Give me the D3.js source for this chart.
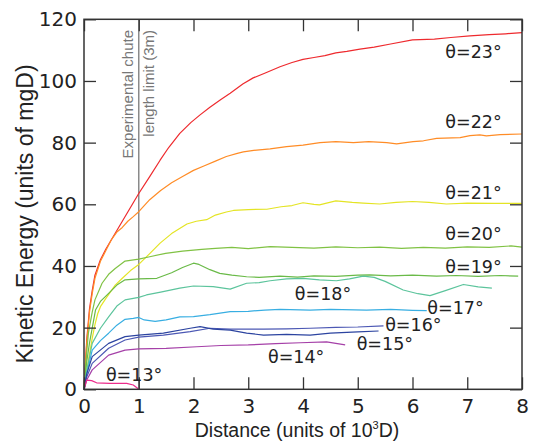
<!DOCTYPE html>
<html><head><meta charset="utf-8">
<script src="https://cdn.jsdelivr.net/npm/d3@7"></script>
<style>body{margin:0;background:#fff}svg{display:block}</style>
</head><body>
<svg id="c" width="537" height="444"></svg>
<script>
// ---- data ----
const xTicks = [0,1,2,3,4,5,6,7,8];
const yTicks = [0,20,40,60,80,100,120];
const angles = [23,22,21,20,19,18,17,16,15,14,13];
const colors = ["#ee2a2e","#ff8c26","#e4e424","#80c244","#6aba48","#5cc49c","#38aee2","#4c58b4","#2c44a0","#a540a8","#ec2c8c"];

const s23 = [[0,0],[0.05,16],[0.1,26],[0.15,32],[0.2,37],[0.3,42],[0.4,45.5],[0.5,48.5],[0.6,51.5],[0.7,54.5],[0.8,57.5],[0.9,60.5],[1.0,63.5],[1.2,69],[1.39,74.3],[1.55,78.5],[1.75,83],[1.95,86.5],[2.12,89],[2.3,91.5],[2.5,94],[2.67,96],[2.9,99],[3.09,101],[3.3,102.5],[3.58,104.6],[3.8,106],[4.0,107],[4.2,107.6],[4.4,108.2],[4.6,109.1],[4.8,109.6],[5.04,110.3],[5.3,111],[5.6,112],[6.0,113.3],[6.4,113.6],[6.7,114.1],[7.05,114.6],[7.4,115],[7.7,115.3],[8.0,115.7]];
const s22 = [[0,0],[0.05,15],[0.1,25],[0.15,31],[0.2,36],[0.3,41.5],[0.4,45],[0.5,48.5],[0.6,51],[0.7,52.5],[0.8,54.5],[0.9,56],[1.0,57.6],[1.2,61.5],[1.4,64.5],[1.6,67],[1.8,69],[2.0,71],[2.2,72.5],[2.4,74],[2.6,75.5],[2.8,76.5],[2.91,77],[3.1,77.5],[3.4,78],[3.7,78.7],[4.0,79.2],[4.31,80],[4.6,80.3],[4.92,80],[5.2,80.3],[5.53,80],[5.71,79.6],[6.01,80.3],[6.2,80.6],[6.44,81.4],[6.87,81.6],[7.05,82.3],[7.23,82.5],[7.35,82.2],[7.6,82.6],[8.0,82.8]];
const s21 = [[0,0],[0.05,6],[0.1,11.5],[0.15,16.5],[0.2,21],[0.25,24.5],[0.3,26.8],[0.4,29.5],[0.57,33.8],[0.7,36],[0.85,38.5],[1.0,40.5],[1.2,44],[1.39,47.4],[1.6,50.5],[1.88,53.6],[2.05,54.5],[2.24,55],[2.4,56.5],[2.6,57.5],[2.73,58],[3.0,58.3],[3.34,58.4],[3.6,59.2],[3.8,59.6],[4.0,60.5],[4.2,60],[4.3,59.8],[4.6,61.1],[4.9,60.6],[5.1,60.4],[5.4,60.1],[5.7,60.6],[6.0,60.9],[6.3,60.6],[6.62,60.1],[7.0,60.4],[7.5,60.3],[8.0,60.3]];
const s20 = [[0,0],[0.04,10],[0.08,18.2],[0.15,25],[0.2,29],[0.33,34.4],[0.45,37.3],[0.57,39.2],[0.75,41.6],[1.0,42.2],[1.2,43],[1.49,44.1],[1.8,44.8],[2.15,45.4],[2.4,45.7],[2.7,46],[3.0,45.6],[3.4,46.3],[3.8,46],[4.2,45.8],[4.6,46.2],[5.0,45.9],[5.4,46.1],[5.8,45.7],[6.2,46],[6.6,45.8],[7.0,46.2],[7.4,46],[7.8,46.5],[8.0,46.1]];
const s19 = [[0,0],[0.05,9],[0.1,15],[0.21,25.7],[0.3,28.5],[0.45,31.1],[0.6,33.8],[0.75,35.5],[1.0,35.8],[1.33,36],[1.6,37.8],[1.8,39.5],[2.0,40.9],[2.1,40.5],[2.3,38.8],[2.48,37.6],[2.7,37],[2.97,36.5],[3.2,36.3],[3.58,36.7],[3.9,36.4],[4.2,36.8],[4.6,36.6],[5.0,37],[5.22,37.1],[5.6,36.8],[6.0,37],[6.44,36.7],[6.8,36.9],[7.2,36.6],[7.6,36.9],[7.93,36.7]];
const s18 = [[0,0],[0.05,6],[0.15,14.9],[0.3,19.8],[0.45,23.5],[0.6,27],[0.75,29],[1.0,29.8],[1.14,30.6],[1.4,31.5],[1.75,32.8],[2.0,33.5],[2.36,33.3],[2.67,32.5],[2.97,34.4],[3.2,34.6],[3.4,35.2],[3.7,35.8],[4.0,36],[4.3,35.5],[4.61,35.2],[4.85,35.8],[5.1,36.7],[5.3,36.3],[5.5,35],[5.83,32.2],[6.1,31],[6.32,30.4],[6.6,32],[6.93,34],[7.2,33.2],[7.45,32.8]];
const s17 = [[0,0],[0.05,5],[0.15,12.7],[0.3,15.8],[0.45,18.2],[0.6,20.8],[0.75,22.7],[0.9,23],[1.0,23.3],[1.1,22.5],[1.3,22],[1.5,22.5],[1.75,23.5],[2.0,23.6],[2.3,24.2],[2.67,25.2],[3.0,25.3],[3.3,25.7],[3.58,25.9],[4.13,25.7],[4.5,25.9],[5.16,25.7],[5.6,25.9],[6.0,25.6],[6.26,25.5]];
const s16 = [[0,0],[0.05,4],[0.15,8.4],[0.45,13.3],[0.75,16],[1.0,16.9],[1.45,17.6],[1.94,18.7],[2.3,19.8],[2.67,19.5],[3.28,19.5],[3.7,19.6],[4.13,19.8],[4.6,20.1],[5.0,20.2],[5.47,20.6]];
const s15 = [[0,0],[0.05,5],[0.15,10.6],[0.45,14.9],[0.75,17.1],[1.0,17.6],[1.45,18.2],[1.94,19.8],[2.12,20.3],[2.36,19.5],[2.67,19.2],[2.97,18.2],[3.28,17.6],[3.7,17.8],[4.13,17.6],[4.5,18.2],[5.0,18.6],[5.38,18.9]];
const s14 = [[0,0],[0.05,3],[0.15,6.3],[0.45,11.1],[0.75,12.7],[1.0,13.1],[1.5,13.3],[2.06,13.8],[2.5,14.2],[3.0,14.4],[3.5,14.8],[3.95,15.1],[4.43,15.4],[4.77,14.4]];
const s13 = [[0,0],[0.05,3],[0.14,2.8],[0.23,2.1],[0.47,1.9],[0.78,1.9],[0.9,1.4],[0.99,0.2]];
const seriesData = [s23,s22,s21,s20,s19,s18,s17,s16,s15,s14,s13];
// label anchor points (data coords)
const labelX = [6.6,6.6,6.6,6.6,6.6,3.85,6.27,5.5,4.98,3.36,0.4];
const labelY = [107.5,84.6,61.8,48.5,37.8,29,24.5,19,12.9,8.5,2.7];
const chuteX = 1;

// ---- chart ----
const svg = d3.select("#c");
const L=84, R=522, T=19.3, B=389.3;
const x = d3.scaleLinear().domain([0,8]).range([L,R]);
const y = d3.scaleLinear().domain([0,120]).range([B,T]);
const tickFont = "'DejaVu Sans', sans-serif";
const textFont = "'Liberation Sans', Arial, sans-serif";

// vertical chute line
svg.append("line").attr("x1",x(chuteX)).attr("x2",x(chuteX)).attr("y1",T).attr("y2",B)
  .attr("stroke","#8a8a8a").attr("stroke-width",1.5);

const line = d3.line().x(d=>x(d[0])).y(d=>y(d[1]));
seriesData.forEach((s,i)=>{
  svg.append("path").attr("d",line(s)).attr("fill","none")
    .attr("stroke",colors[i]).attr("stroke-width",1.2).attr("stroke-linejoin","round");
});

// axes
const ax = (g,axis,lab)=>{
  g.call(axis);
  g.select(".domain").remove();
  g.selectAll(".tick line").attr("stroke","#333").attr("stroke-width",1.3);
  g.selectAll("text").attr("font-family",tickFont).attr("font-size",20).attr("fill","#222");
  if(!lab) g.selectAll("text").remove();
};
svg.append("g").attr("transform",`translate(0,${B})`)
  .call(g=>ax(g,d3.axisBottom(x).tickValues(xTicks).tickFormat(d3.format("d")).tickSizeInner(-12).tickSizeOuter(0).tickPadding(10),true));
svg.append("g").attr("transform",`translate(${L},0)`)
  .call(g=>ax(g,d3.axisLeft(y).tickValues(yTicks).tickFormat(d3.format("d")).tickSizeInner(-12).tickSizeOuter(0).tickPadding(7),true));
svg.append("g").attr("transform",`translate(0,${T})`)
  .call(g=>ax(g,d3.axisTop(x).tickValues(xTicks).tickSizeInner(-12).tickSizeOuter(0),false));
svg.append("g").attr("transform",`translate(${R},0)`)
  .call(g=>ax(g,d3.axisRight(y).tickValues(yTicks).tickSizeInner(-12).tickSizeOuter(0),false));

// frame
svg.append("rect").attr("x",L).attr("y",T).attr("width",R-L).attr("height",B-T)
  .attr("fill","none").attr("stroke","#333").attr("stroke-width",1.5);

// series labels
angles.forEach((a,i)=>{
  svg.append("text").attr("x",x(labelX[i])).attr("y",y(labelY[i]))
    .attr("font-family",tickFont).attr("font-size",17.5).attr("fill","#222")
    .text(`θ=${a}°`);
});

// chute annotation
const ann = svg.append("text").attr("font-family",textFont).attr("font-size",15).attr("fill","#777")
  .attr("text-anchor","end").attr("transform",`translate(${x(chuteX)-6},30) rotate(-90)`);
ann.append("tspan").attr("x",0).attr("y",0).text("Experimental chute");
ann.append("tspan").attr("x",0).attr("y",21).text("length limit (3m)");

// axis titles
const xt = svg.append("text").attr("x",297).attr("y",437).attr("text-anchor","middle")
  .attr("font-family",textFont).attr("font-size",19.5).attr("fill","#222");
xt.append("tspan").text("Distance (units of 10");
xt.append("tspan").attr("font-size",11).attr("dy",-8).text("3");
xt.append("tspan").attr("dy",8).text("D)");

svg.append("text").attr("transform","translate(33,214) rotate(-90)").attr("text-anchor","middle")
  .attr("font-family",textFont).attr("font-size",23).attr("fill","#222")
  .text("Kinetic Energy (units of mgD)");
</script>
</body></html>
